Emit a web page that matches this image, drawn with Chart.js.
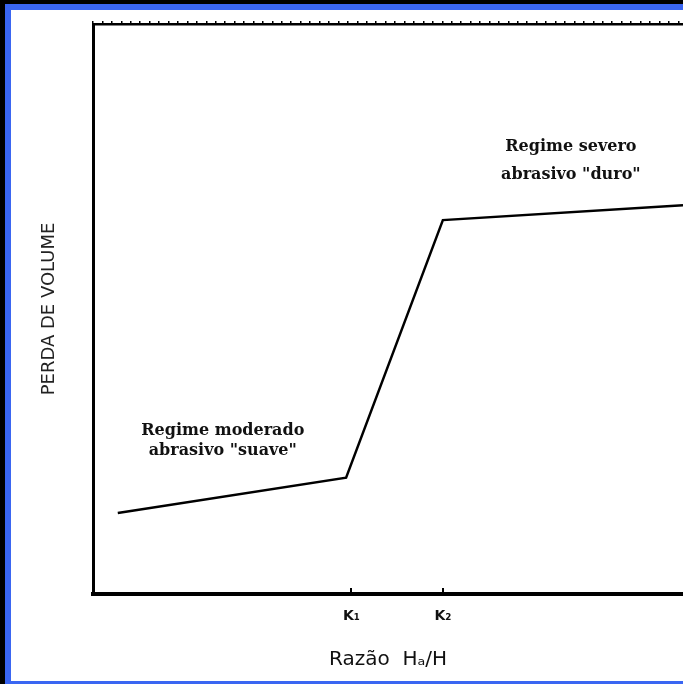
<!DOCTYPE html>
<html>
<head>
<meta charset="utf-8">
<script src="https://cdn.jsdelivr.net/npm/chart.js@4.4.1/dist/chart.umd.min.js"></script>
<style>
  html, body { margin:0; padding:0; background:#000; }
  #wrap {
    position:absolute; left:0; top:0; width:683px; height:684px;
    box-sizing:border-box; background:#fff;
    border-top:4px solid #000; border-left:5px solid #000;
  }
  #inner {
    position:absolute; left:0; top:0; right:0; bottom:0;
    border-top:6px solid #3a66f2; border-left:6px solid #3a66f2; border-bottom:3px solid #3a66f2;
  }
  #chart { position:absolute; left:0; top:0; }
</style>
</head>
<body>
<div id="wrap"><div id="inner"></div></div>
<canvas id="chart" width="683" height="684"></canvas>
<script>
// piecewise wear curve: x = razão HA/H (0..100), y = perda de volume (0..100)
const curveX = [4.2, 42.9, 59.3, 100];
const curveY = [14.2, 20.4, 65.6, 68.2];
const tickValues = [43.8, 59.3];
const tickLabels = ['K\u2081', 'K\u2082'];
const notes = [
  { x: 22.0, y: 28.7, gap: 20, lines: ['Regime moderado', 'abrasivo "suave"'] },
  { x: 81.0, y: 78.4, gap: 28, lines: ['Regime severo', 'abrasivo "duro"'] }
];

const notePlugin = {
  id: 'notes',
  afterDatasetsDraw(chart){
    const { ctx, scales } = chart;
    ctx.save();
    ctx.fillStyle = '#111';
    ctx.font = 'bold 16px "DejaVu Serif", serif';
    ctx.textAlign = 'center';
    ctx.textBaseline = 'middle';
    notes.forEach(n => {
      const px = scales.x.getPixelForValue(n.x);
      const py = scales.y.getPixelForValue(n.y);
      n.lines.forEach((t, i) => ctx.fillText(t, px, py + i * n.gap));
    });
    ctx.restore();
  }
};

new Chart(document.getElementById('chart'), {
  type: 'line',
  data: {
    datasets: [{
      data: curveX.map((x, i) => ({ x, y: curveY[i] })),
      borderColor: '#000',
      borderWidth: 2.5,
      pointRadius: 0,
      tension: 0,
      fill: false
    }]
  },
  options: {
    responsive: false,
    animation: false,
    layout: { padding: { left: 0, top: 21, right: 0, bottom: 0 } },
    plugins: { legend: { display: false }, tooltip: { enabled: false } },
    scales: {
      x: {
        type: 'linear', position: 'bottom', min: 0, max: 100,
        afterBuildTicks: (s) => { s.ticks = tickValues.map(v => ({ value: v })); },
        afterFit: (s) => { s.height = 90; },
        border: { display: true, color: '#000', width: 4 },
        grid: { drawOnChartArea: false, drawTicks: true, tickLength: -6, color: '#000', lineWidth: 2 },
        ticks: {
          autoSkip: false, maxRotation: 0, padding: 20,
          color: '#111', font: { family: 'DejaVu Sans', size: 14, weight: 'bold' },
          callback: (v, i) => tickLabels[i]
        },
        title: {
          display: true, text: 'Razão  H\u2090/H', color: '#111',
          font: { family: 'DejaVu Sans', size: 20 }, padding: { top: 6, bottom: 12 }
        }
      },
      x2: {
        type: 'linear', position: 'top', min: 0, max: 100,
        afterBuildTicks: (s) => {
          const t = [];
          for (let v = 0; v <= 100; v += 1.6) t.push({ value: v });
          s.ticks = t;
        },
        afterFit: (s) => { s.height = 3; },
        border: { display: true, color: '#000', width: 2.5 },
        grid: { drawOnChartArea: false, drawTicks: true, tickLength: 3, color: '#000', lineWidth: 1.5 },
        ticks: { display: false }
      },
      y: {
        type: 'linear', min: 0, max: 100,
        afterFit: (s) => { s.width = 93; },
        border: { display: true, color: '#000', width: 3 },
        grid: { display: false },
        ticks: { display: false },
        title: {
          display: true, text: 'PERDA DE VOLUME', color: '#222',
          font: { family: 'DejaVu Sans', size: 18 }, padding: { top: 39, bottom: 0 }
        }
      }
    }
  },
  plugins: [notePlugin]
});
</script>
</body>
</html>
